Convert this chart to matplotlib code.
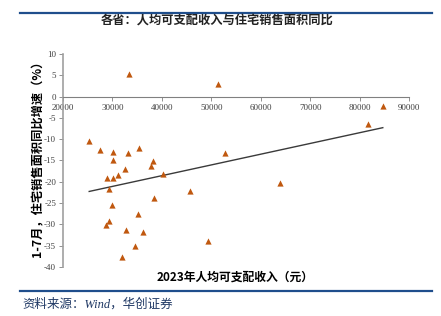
import numpy as np
import matplotlib
matplotlib.use('Agg')
import matplotlib.pyplot as plt

# 2023 per-capita disposable income (yuan) by province
income = [33400, 51450, 25300, 27500, 30040, 33200, 35400, 52800, 84700, 81760,
          30040, 38240, 37840, 32460, 31170, 40140, 28830, 30170, 29230, 45660,
          38380, 29840, 35150, 29350, 28690, 32790, 36100, 49430, 34550, 31860,
          63840]
# Jan-Jul residential sales area yoy (%)
sales_yoy = [5.3, 3.0, -10.5, -12.5, -13.1, -13.3, -12.0, -13.3, -2.2, -6.4,
             -14.9, -15.2, -16.3, -17.1, -18.5, -18.1, -19.2, -19.2, -21.6, -22.1,
             -23.7, -25.4, -27.5, -29.2, -30.2, -31.2, -31.8, -33.8, -35.1, -37.7,
             -20.3]
xticks = [20000, 30000, 40000, 50000, 60000, 70000, 80000, 90000]
yticks = [10, 5, 0, -5, -10, -15, -20, -25, -30, -35, -40]

cjk = ['Noto Sans CJK SC', 'DejaVu Sans']
serif = ['Liberation Serif', 'Noto Sans CJK SC']
blue = '#1F4E8C'

fig = plt.figure(figsize=(4.41, 3.16), dpi=100)
ax = fig.add_axes([63 / 441, 1 - 267 / 316, 346 / 441, 213 / 316])
ax.spines['top'].set_visible(False)
ax.spines['right'].set_visible(False)
ax.spines['bottom'].set_position(('data', 0))

ax.scatter(income, sales_yoy, marker='^', s=20, color='#C0580F', zorder=3, linewidths=0)

k, b = np.polyfit(income, sales_yoy, 1)
xs = np.array([min(income), max(income)])
ax.plot(xs, k * xs + b, color='#3a3a3a', lw=1.0, zorder=2)

ax.set_xlim(20000, 90000)
ax.set_ylim(-40, 10)
ax.set_xticks(xticks)
ax.set_yticks(yticks)
ax.set_xticklabels([str(v) for v in xticks], fontsize=6.5, family=serif, color='#404040')
ax.set_yticklabels([str(v) for v in yticks], fontsize=6.5, family=serif, color='#404040')
ax.spines['bottom'].set_color('#808080')
ax.spines['left'].set_color('#a0a0a0')
ax.spines['left'].set_linewidth(1.2)
ax.tick_params(axis='both', length=3, width=0.6, color='#808080', pad=2)
ax.patch.set_visible(False)

fig.text(235 / 441, 1 - 277 / 316, '2023年人均可支配收入（元）', family=cjk,
         fontsize=8.5, fontweight='bold', ha='center', va='center')
fig.text(38 / 441, 1 - 156 / 316, '1-7月，住宅销售面积同比增速（%）', family=cjk,
         fontsize=8.8, fontweight='bold', rotation=90, ha='center', va='center')

fig.text(217 / 441, 1 - 21 / 316, '各省：人均可支配收入与住宅销售面积同比', family=cjk,
         fontsize=8.8, fontweight='bold', ha='center', va='center', color='#222222')

# frame lines of the report page
fig.add_artist(plt.Line2D([20 / 441, 432 / 441], [1 - 13 / 316] * 2, color=blue, lw=1.6))
fig.add_artist(plt.Line2D([20 / 441, 432 / 441], [1 - 291 / 316] * 2, color=blue, lw=1.6))
fig.text(22 / 441, 1 - 304 / 316, '资料来源：Wind，华创证券', family=serif, style='italic',
         fontsize=9, ha='left', va='center', color='#1F3864')

fig.savefig('out.png', dpi=100)
